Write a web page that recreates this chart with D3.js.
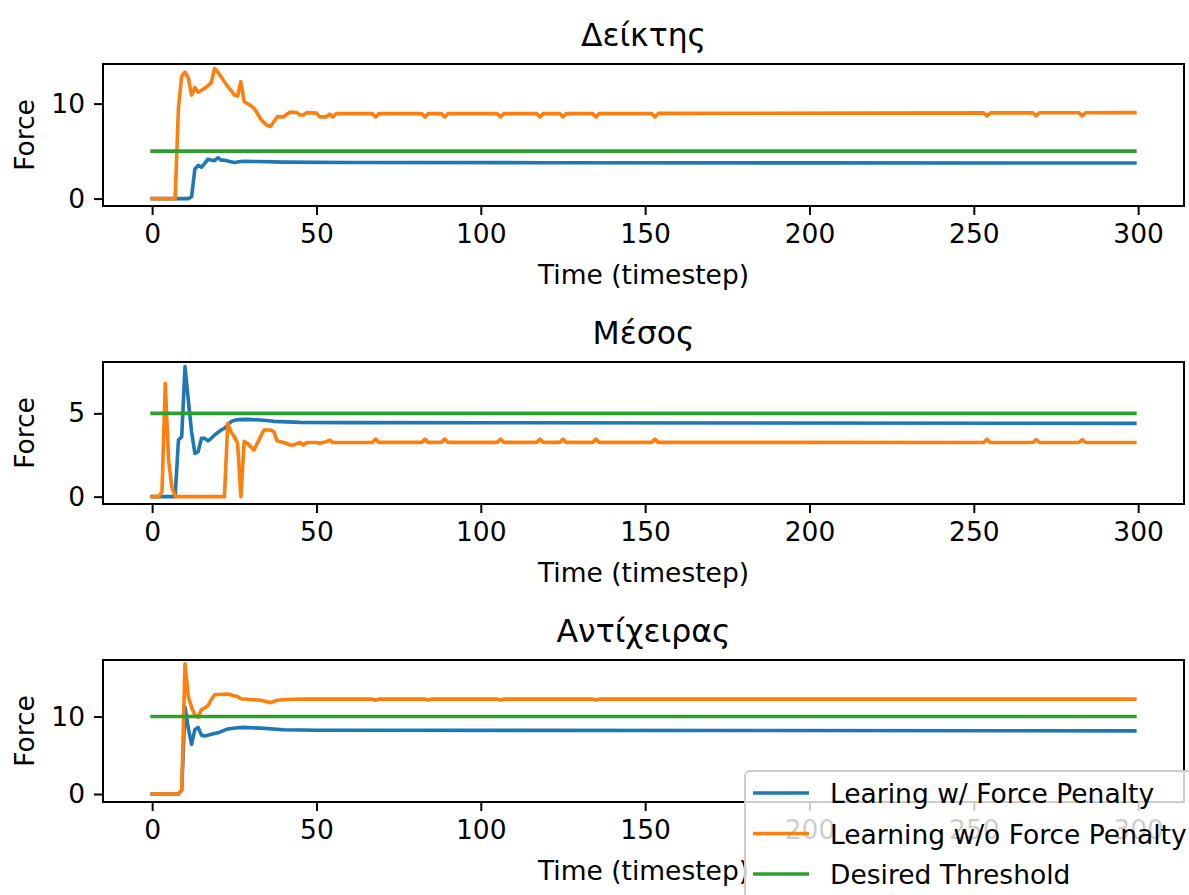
<!DOCTYPE html>
<html>
<head>
<meta charset="utf-8">
<script src="https://cdn.jsdelivr.net/npm/d3@7"></script>
<style>
  body { margin: 0; background: #fff; }
  svg { display: block; font-family: "DejaVu Sans", sans-serif; }
</style>
</head>
<body>
<div id="chart"></div>
<script>
// data: [timestep, force] vertices
var panelTitles = ["Δείκτης", "Μέσος", "Αντίχειρας"];
var thresholds = [5, 5, 10];
var xTicks = [0, 50, 100, 150, 200, 250, 300];
var yTicks = [[0, 10], [0, 5], [0, 10]];
var seriesNames = ["Learing w/ Force Penalty", "Learning w/o Force Penalty", "Desired Threshold"];

var indexPenalty = [[0,0],[11,0],[12,0.2],[13,3.1],[14,3.5],[15,3.3],[16,3.7],[17,4.15],[18,4.05],[19,4.0],[20,4.3],
  [21,4.05],[22,4.05],[23,3.95],[25,3.8],[27,3.9],[28,3.93],[32,3.9],[40,3.84],[60,3.8],[120,3.78],[200,3.76],[299,3.75]];

var indexNoPenalty = [[0,0],[7,0],[8,9.5],[9,12.9],[10,13.3],[11,12.7],[12,10.9],[13,11.7],[14,11.2],[15,11.4],
  [16,11.6],[17,11.9],[18,12.2],[19,13.7],[20,13.3],[21,12.8],[22,12.3],[23,11.8],[24,11.4],[25,10.9],[26,10.8],
  [27,12.3],[28,10.2],[29,10.0],[30,9.8],[31,9.5],[32,9.0],[33,8.4],[34,8.0],[35,7.7],[36,7.6],[37,8.1],[38,8.6],
  [40,8.6],[41,8.9],[42,9.1],[44,9.05],[45,8.8],[46,8.8],[47,9.05],[50,9.0],[51,8.6],[53,8.6],[54,8.9],[55,8.6],
  [56,8.95],[67,8.95],[68,8.6],[69,8.95],[82,8.95],[83,8.6],[84,8.95],[88,8.95],[89,8.6],[90,8.95],[105,8.95],
  [106,8.6],[107,8.95],[117,8.95],[118,8.6],[119,8.95],[124,8.95],[125,8.6],[126,8.95],[134,8.95],[135,8.6],
  [136,8.95],[152,8.95],[153,8.6],[154,8.97],[253,9.02],[254,8.7],[255,9.02],[268,9.03],[269,8.7],[270,9.03],
  [282,9.04],[283,8.7],[284,9.04],[299,9.05]];

var middlePenalty = [[0,0],[7,0],[8,3.4],[9,3.6],[10,7.8],[11,5.8],[12,3.9],[13,2.6],[14,2.7],[15,3.5],[16,3.5],
  [17,3.35],[18,3.5],[19,3.7],[20,3.85],[21,4.0],[22,4.1],[23,4.3],[24,4.5],[25,4.58],[26,4.62],[29,4.64],
  [33,4.6],[37,4.52],[45,4.46],[60,4.44],[299,4.4]];

var middleNoPenalty = [[0,0],[2,0],[3,0.3],[4,6.8],[5,2.2],[6,0.6],[7,0],[22,0],[23,4.4],[24,3.9],[25,3.6],[26,3.2],
  [27,0],[28,3.3],[29,3.2],[30,3.0],[31,2.8],[32,3.2],[33,3.6],[34,4.0],[36,4.0],[37,3.9],[38,3.35],[40,3.25],
  [42,3.1],[43,3.1],[45,3.25],[46,3.1],[47,3.25],[50,3.25],[51,3.2],[53,3.3],[54,3.4],[55,3.25],[67,3.26],
  [68,3.45],[69,3.26],[82,3.26],[83,3.45],[84,3.26],[88,3.26],[89,3.45],[90,3.26],[105,3.26],[106,3.45],
  [107,3.26],[117,3.26],[118,3.45],[119,3.26],[124,3.26],[125,3.45],[126,3.26],[134,3.26],[135,3.45],
  [136,3.26],[152,3.26],[153,3.45],[154,3.26],[253,3.25],[254,3.45],[255,3.25],[268,3.25],[269,3.42],
  [270,3.25],[282,3.25],[283,3.42],[284,3.25],[299,3.25]];

var thumbPenalty = [[0,0],[8,0],[9,0.5],[10,11.2],[11,8.5],[12,6.4],[13,8.3],[14,8.6],[15,7.6],[16,7.5],[17,7.6],
  [18,7.7],[20,7.9],[23,8.4],[26,8.55],[28,8.6],[33,8.5],[40,8.3],[50,8.24],[299,8.15]];

var thumbNoPenalty = [[0,0],[8,0],[9,0.5],[10,16.8],[11,12.6],[12,11.2],[13,10.2],[14,9.9],[15,10.9],[16,11.1],
  [17,11.4],[18,12.2],[19,12.8],[20,12.85],[23,12.9],[25,12.7],[26,12.6],[27,12.3],[30,12.2],[33,12.1],
  [36,11.8],[38,12.1],[41,12.2],[45,12.25],[67,12.25],[68,12.1],[69,12.25],[83,12.25],[84,12.12],[85,12.25],
  [105,12.25],[106,12.12],[107,12.25],[134,12.25],[135,12.12],[136,12.25],[299,12.25]];

var penaltySeries = [indexPenalty, middlePenalty, thumbPenalty];
var noPenaltySeries = [indexNoPenalty, middleNoPenalty, thumbNoPenalty];
var yLimits = [[-0.78, 14.17], [-0.44, 8.08], [-1.03, 17.3]];
var xLimits = [-14.95, 313.95];

var width = 1189, height = 895;
var left = 103, right = 1184, axH = 142;
var tops = [64, 362, 660];
var colors = ["#1f77b4", "#ff7f0e", "#2ca02c"];
var fs = 26.5;

var svg = d3.select("#chart").append("svg")
  .attr("width", width)
  .attr("height", height);

var x = d3.scaleLinear().domain(xLimits).range([left, right]);

panelTitles.forEach(function (title, i) {
  var top = tops[i];
  var y = d3.scaleLinear().domain(yLimits[i]).range([top + axH, top]);
  var line = d3.line()
    .x(function (d) { return x(d[0]); })
    .y(function (d) { return y(d[1]); });

  var g = svg.append("g");

  // data lines
  g.append("path")
    .attr("d", line(penaltySeries[i]))
    .attr("fill", "none").attr("stroke", colors[0]).attr("stroke-width", 3.6)
    .attr("stroke-linejoin", "round").attr("stroke-linecap", "square");
  g.append("path")
    .attr("d", line(noPenaltySeries[i]))
    .attr("fill", "none").attr("stroke", colors[1]).attr("stroke-width", 3.6)
    .attr("stroke-linejoin", "round").attr("stroke-linecap", "square");
  g.append("path")
    .attr("d", line([[0, thresholds[i]], [299, thresholds[i]]]))
    .attr("fill", "none").attr("stroke", colors[2]).attr("stroke-width", 3.6)
    .attr("stroke-linecap", "square");

  // axes
  var xAxis = g.append("g")
    .attr("transform", "translate(0," + (top + axH) + ")")
    .call(d3.axisBottom(x).tickValues(xTicks).tickSize(9).tickPadding(9));
  var yAxis = g.append("g")
    .attr("transform", "translate(" + left + ",0)")
    .call(d3.axisLeft(y).tickValues(yTicks[i]).tickSize(9).tickPadding(9));

  [xAxis, yAxis].forEach(function (a) {
    a.select(".domain").remove();
    a.selectAll(".tick line").attr("stroke", "#000").attr("stroke-width", 2);
    a.selectAll(".tick text")
      .attr("fill", "#000")
      .style("font-size", fs + "px")
      .style("font-family", "DejaVu Sans");
  });

  // spines
  g.append("rect")
    .attr("x", left).attr("y", top)
    .attr("width", right - left).attr("height", axH)
    .attr("fill", "none").attr("stroke", "#000").attr("stroke-width", 2);

  g.append("text")
    .attr("x", (left + right) / 2).attr("y", top - 18)
    .attr("text-anchor", "middle")
    .style("font-size", "31.5px")
    .text(title);

  g.append("text")
    .attr("x", (left + right) / 2).attr("y", top + axH + 78)
    .attr("text-anchor", "middle")
    .style("font-size", fs + "px")
    .text("Time (timestep)");

  g.append("text")
    .attr("transform", "translate(34," + (top + axH / 2) + ") rotate(-90)")
    .attr("text-anchor", "middle")
    .style("font-size", fs + "px")
    .text("Force");
});

// legend
var legend = svg.append("g");
legend.append("rect")
  .attr("x", 745).attr("y", 771)
  .attr("width", 480).attr("height", 160)
  .attr("rx", 5)
  .attr("fill", "#fff").attr("fill-opacity", 0.8)
  .attr("stroke", "#cccccc").attr("stroke-width", 2);

seriesNames.forEach(function (name, k) {
  var ly = 793 + k * 40.5;
  legend.append("line")
    .attr("x1", 753).attr("x2", 809)
    .attr("y1", ly).attr("y2", ly)
    .attr("stroke", colors[k]).attr("stroke-width", 3.6);
  legend.append("text")
    .attr("x", 830).attr("y", ly + 10)
    .style("font-size", fs + "px")
    .text(name);
});
</script>
</body>
</html>
